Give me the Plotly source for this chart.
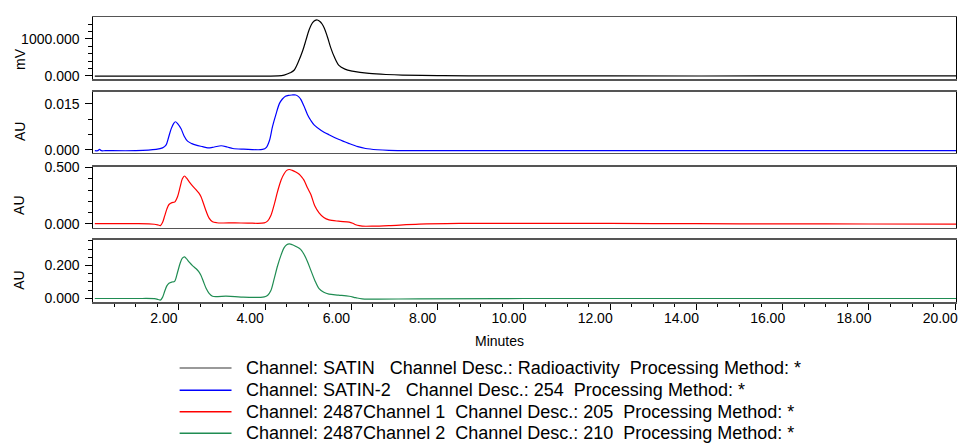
import plotly.graph_objects as go

# ---------------- data ----------------
# Channel SATIN (Radioactivity), mV
t_satin = [0.05, 2.0, 4.0, 4.30, 4.44, 4.58, 4.67, 4.77, 4.87, 4.95, 5.02, 5.10, 5.16, 5.21,
           5.27, 5.32, 5.37, 5.45, 5.52, 5.60, 5.71, 5.85, 6.02, 6.20, 6.41, 6.80, 7.18, 8.0,
           8.72, 12.0, 16.0, 20.02]
v_satin = [-8, -8, -8, -4, 18, 80, 150, 380, 676, 980, 1246, 1440, 1500, 1509,
           1470, 1400, 1290, 1030, 763, 520, 282, 180, 124, 90, 63, 35, 18, 5,
           -2, -5, -5, -5]

# Channel SATIN-2 (254), AU
t_254 = [0.05, 0.12, 0.16, 0.20, 0.30, 1.0, 1.47, 1.62, 1.70, 1.76, 1.82, 1.88, 1.92, 1.97,
         2.05, 2.12, 2.20, 2.30, 2.40, 2.55, 2.67, 2.82, 2.98, 3.12, 3.25, 3.50, 3.94, 4.03,
         4.10, 4.17, 4.25, 4.33, 4.40, 4.47, 4.54, 4.62, 4.71, 4.78, 4.83, 4.90, 4.98, 5.06,
         5.14, 5.30, 5.48, 5.70, 5.95, 6.15, 6.33, 6.60, 6.87, 8.0, 12.0, 16.0, 20.02]
v_254 = [-0.0003, -0.0003, 0.0001, -0.0003, -0.0003, -0.0003, 0.0001, 0.0006, 0.0015, 0.0040,
         0.0068, 0.0086, 0.0091, 0.0085, 0.0068, 0.0045, 0.0028, 0.0020, 0.0015, 0.0010,
         0.0006, 0.0009, 0.0013, 0.0009, 0.0004, 0.0002, 0.0001, 0.0008, 0.0030, 0.0075,
         0.0115, 0.0150, 0.0165, 0.0174, 0.0177, 0.0178, 0.0178, 0.0172, 0.0163, 0.0142,
         0.0115, 0.0095, 0.0080, 0.0063, 0.0049, 0.0034, 0.0020, 0.0010, 0.0004, 0.0000,
         -0.0002, -0.0003, -0.0003, -0.0003, -0.0003]

# Channel 2487Channel 1 (205), AU
t_205 = [0.05, 1.0, 1.43, 1.52, 1.57, 1.62, 1.67, 1.72, 1.77, 1.84, 1.90, 1.97, 2.03, 2.08,
         2.13, 2.18, 2.24, 2.32, 2.40, 2.46, 2.51, 2.57, 2.63, 2.70, 2.78, 2.88, 3.01, 3.30,
         3.60, 3.98, 4.06, 4.13, 4.21, 4.29, 4.37, 4.44, 4.50, 4.56, 4.63, 4.71, 4.79, 4.85,
         4.90, 4.98, 5.06, 5.15, 5.25, 5.36, 5.48, 5.70, 5.95, 6.03, 6.10, 6.18, 6.25, 6.50,
         6.87, 7.57, 8.5, 10.0, 12.0, 14.0, 16.0, 18.0, 20.02]
v_205 = [0.0, 0.0, -0.005, -0.012, -0.017, 0.010, 0.069, 0.130, 0.171, 0.188, 0.192, 0.243,
         0.330, 0.400, 0.425, 0.405, 0.373, 0.335, 0.301, 0.275, 0.243, 0.180, 0.113, 0.050,
         0.017, 0.008, 0.006, 0.007, 0.005, 0.007, 0.025, 0.070, 0.170, 0.290, 0.390, 0.445,
         0.475, 0.483, 0.475, 0.460, 0.440, 0.415, 0.388, 0.320, 0.260, 0.160, 0.097, 0.055,
         0.034, 0.022, 0.014, 0.004, -0.009, -0.018, -0.022, -0.022, -0.017, -0.004, 0.002,
         0.003, 0.002, 0.0, -0.002, -0.003, -0.004]

# Channel 2487Channel 2 (210), AU
t_210 = [0.05, 1.0, 1.43, 1.52, 1.57, 1.62, 1.67, 1.72, 1.77, 1.84, 1.90, 1.97, 2.03, 2.08,
         2.13, 2.18, 2.24, 2.32, 2.40, 2.46, 2.51, 2.57, 2.63, 2.70, 2.78, 2.90, 3.09, 3.30,
         3.49, 3.98, 4.06, 4.13, 4.21, 4.29, 4.37, 4.44, 4.50, 4.56, 4.63, 4.71, 4.79, 4.85,
         4.90, 4.98, 5.06, 5.15, 5.25, 5.36, 5.48, 5.70, 5.95, 6.10, 6.25, 7.57, 10.0, 15.0,
         20.02]
v_210 = [-0.002, -0.002, -0.003, -0.008, -0.012, 0.005, 0.042, 0.075, 0.091, 0.099, 0.103,
         0.160, 0.215, 0.245, 0.253, 0.240, 0.220, 0.198, 0.180, 0.162, 0.140, 0.100, 0.061,
         0.030, 0.012, 0.010, 0.012, 0.010, 0.006, 0.008, 0.018, 0.045, 0.120, 0.200, 0.265,
         0.309, 0.327, 0.332, 0.327, 0.317, 0.305, 0.290, 0.269, 0.225, 0.170, 0.110, 0.058,
         0.036, 0.025, 0.019, 0.012, 0.003, -0.004, -0.004, -0.002, -0.002, -0.002]

channel_names = ["SATIN", "SATIN-2", "2487Channel 1", "2487Channel 2"]
channel_desc = ["Radioactivity", "254", "205", "210"]
y_titles = ["mV", "AU", "AU", "AU"]
x_tick_vals = [2, 4, 6, 8, 10, 12, 14, 16, 18, 20]
x_tick_text = ["2.00", "4.00", "6.00", "8.00", "10.00", "12.00", "14.00", "16.00", "18.00", "20.00"]

# ---------------- styling / layout ----------------
W, H = 962, 444
FONT = "Liberation Sans, Arial, Helvetica, sans-serif"
colors = ["#000000", "#0000ff", "#ff0000", "#1f8c52"]
legend_colors = ["#777777", "#0000ff", "#ff0000", "#1f8c52"]

# panel pixel extents (top, bottom)
panels_px = [(10.7, 74.0), (87.3, 150.0), (164.0, 226.7), (239.3, 303.3)]
x_left, x_right = 93.5, 958.0
y_ranges = [[-87, 1579], [-0.00104, 0.0188], [-0.0347, 0.509], [-0.024, 0.357]]
y_dticks = [1000, 0.015, 0.5, 0.2]
y_minor = [200, 0.005, 0.1, 0.05]

series = [(t_satin, v_satin), (t_254, v_254), (t_205, v_205), (t_210, v_210)]

fig = go.Figure()
for i, (t, v) in enumerate(series):
    fig.add_trace(go.Scatter(
        x=t, y=v, mode="lines",
        line=dict(color=colors[i], width=1.2, shape="spline", smoothing=0.9),
        xaxis="x" if i == 0 else f"x{i+1}",
        yaxis="y" if i == 0 else f"y{i+1}",
        showlegend=False, hoverinfo="skip"))

layout = dict(
    width=W, height=H,
    margin=dict(l=0, r=0, t=0, b=0),
    paper_bgcolor="white", plot_bgcolor="white",
    font=dict(family=FONT, size=14, color="black"),
    showlegend=False,
)

for i in range(4):
    top, bot = panels_px[i]
    xs = "" if i == 0 else str(i + 1)
    last = (i == 3)
    layout[f"xaxis{xs}"] = dict(
        domain=[x_left / W, x_right / W],
        anchor=f"y{xs}",
        range=[0.015, 20.02],
        showgrid=False, zeroline=False,
        showline=True, mirror=True, linecolor="#555555", linewidth=1.5,
        showticklabels=last,
        ticks="outside" if last else "",
        tickvals=x_tick_vals if last else None,
        ticktext=x_tick_text if last else None,
        ticklen=6, tickwidth=1, tickcolor="black",
        ticklabelshift=-15, ticklabelstandoff=-3,
        tickfont=dict(size=14, family=FONT, color="black"),
        minor=dict(dtick=0.5, tick0=0, ticks="outside", ticklen=3, tickcolor="black") if last else dict(ticks=""),
    )
    layout[f"yaxis{xs}"] = dict(
        domain=[1 - bot / H, 1 - top / H],
        anchor=f"x{xs}",
        range=y_ranges[i],
        showgrid=False, zeroline=False,
        showline=True, mirror=True, linecolor="black", linewidth=1,
        ticks="outside", ticklen=7, tickwidth=1, tickcolor="black",
        tick0=0, dtick=y_dticks[i], tickformat=".3f",
        ticklabelstandoff=3,
        tickfont=dict(size=14, family=FONT, color="black"),
        minor=dict(dtick=y_minor[i], tick0=0, ticks="outside", ticklen=4, tickcolor="black"),
    )

fig.update_layout(**layout)

# y-axis titles
title_y_px = [53, 128, 204, 281]
for i in range(4):
    fig.add_annotation(text=y_titles[i], xref="paper", yref="paper",
                       x=19.5 / W, y=1 - title_y_px[i] / H, textangle=-90,
                       showarrow=False, xanchor="center", yanchor="middle",
                       font=dict(size=14, family=FONT, color="black"))

# x-axis title
fig.add_annotation(text="Minutes", xref="paper", yref="paper",
                   x=501 / W, y=1 - 343.0 / H, showarrow=False,
                   xanchor="center", yanchor="middle",
                   font=dict(size=14, family=FONT, color="black"))

# legend (drawn manually to match the original spacing)
NB = "\u00a0"
legend_rows_px = [371, 394, 416, 438]
for i in range(4):
    gap1 = NB * 3 if i < 2 else NB * 2
    txt = (f"Channel: {channel_names[i]}{gap1}Channel Desc.: {channel_desc[i]}"
           f"{NB*2}Processing Method: *")
    yp = 1 - legend_rows_px[i] / H
    fig.add_shape(type="line", xref="paper", yref="paper",
                  x0=180 / W, x1=232 / W, y0=yp, y1=yp,
                  line=dict(color=legend_colors[i], width=1.5))
    fig.add_annotation(text=txt, xref="paper", yref="paper",
                       x=245 / W, y=yp, showarrow=False,
                       xanchor="left", yanchor="middle",
                       font=dict(size=18, family=FONT, color="black"))

fig.write_html(
    "out.html",
    config={"displayModeBar": False, "staticPlot": True},
    post_script="document.body.style.margin='0';document.body.style.overflow='hidden';",
)
